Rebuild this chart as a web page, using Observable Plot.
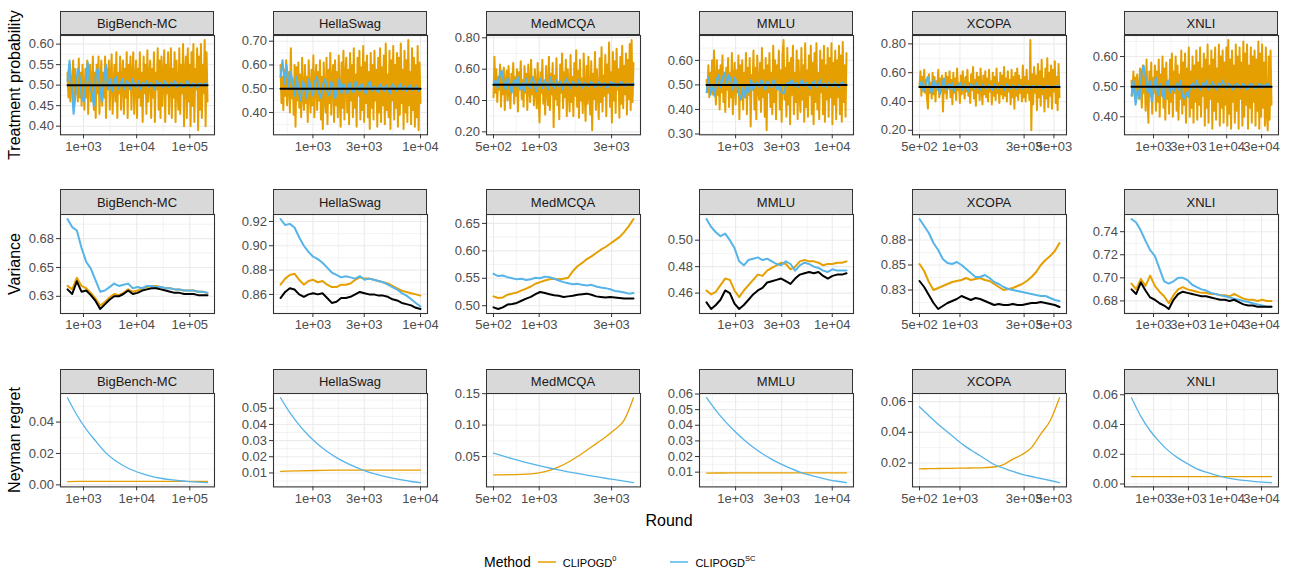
<!DOCTYPE html>
<html><head><meta charset="utf-8">
<script src="https://cdn.jsdelivr.net/npm/d3@7"></script>
<script src="https://cdn.jsdelivr.net/npm/@observablehq/plot@0.6"></script>
<style>
body{margin:0;background:#fff;}
#root{position:relative;width:1291px;height:575px;font-family:"Liberation Sans",Arial,sans-serif;overflow:hidden;background:#fff;}
.strip{position:absolute;background:#D9D9D9;border:1px solid #333;box-sizing:border-box;color:#1A1A1A;font-size:13px;text-align:center;display:flex;align-items:center;justify-content:center;}
.pl{position:absolute;}
.ytitle{position:absolute;font-size:16px;color:#000;white-space:nowrap;transform:translate(-50%,-50%) rotate(-90deg);}
.xtitle{position:absolute;font-size:16px;color:#000;transform:translate(-50%,-50%);}
.legend{position:absolute;display:flex;align-items:center;font-size:11px;color:#000;}
.legend sup{font-size:7.5px;position:relative;top:-1px;}
</style></head><body><div id="root"></div>
<script>
// ---------- data ----------
const datasets = ["BigBench-MC","HellaSwag","MedMCQA","MMLU","XCOPA","XNLI"];
const firstRound = [500,500,500,500,500,500];
const lastRound = [215000,10000,4183,14042,5500,41000];
const xTicks = [[1e3,1e4,1e5],[1e3,3e3,1e4],[5e2,1e3,3e3],[1e3,3e3,1e4],[5e2,1e3,3e3,5e3],[1e3,3e3,1e4,3e4]];
const xTickLabels = [["1e+03","1e+04","1e+05"],["1e+03","3e+03","1e+04"],["5e+02","1e+03","3e+03"],["1e+03","3e+03","1e+04"],["5e+02","1e+03","3e+03","5e+03"],["1e+03","3e+03","1e+04","3e+04"]];
const yTicksProb = [[.40,.45,.50,.55,.60],[.30,.40,.50,.60,.70],[.20,.40,.60,.80],[.30,.40,.50,.60],[.20,.40,.60,.80],[.40,.50,.60]];
const yTicksVar = [[.625,.65,.675],[.86,.88,.90,.92],[.50,.55,.60,.65],[.46,.48,.50],[.825,.85,.875],[.68,.70,.72,.74]];
const yTicksRegret = [[0,.02,.04],[.01,.02,.03,.04,.05],[.05,.10,.15],[.01,.02,.03,.04,.05,.06],[.02,.04,.06],[0,.02,.04,.06]];

// Treatment probability (values at evenly log-spaced rounds from first to last round)
const neymanProb = [.5,.5];
const p0_BB = [.53,.47,.55,.46,.52,.49,.56,.45,.54,.48,.51,.46,.565,.47,.53,.45,.55,.49,.44,.54,.47,.56,.43,.52,.55,.46,.50,.57,.44,.53,.42,.55,.48,.57,.43,.51,.56,.45,.53,.47,.57,.42,.54,.49,.56,.44,.52,.575,.43,.50,.55,.46,.58,.42,.53,.48,.57,.44,.51,.56,.43,.54,.47,.58,.42,.55,.49,.57,.44,.52,.58,.43,.51,.56,.42,.54,.47,.58,.45,.53,.41,.57,.48,.55,.43,.585,.46,.52,.56,.42,.54,.47,.58,.41,.53,.49,.59,.44,.56,.42,.57,.45,.52,.585,.41,.55,.48,.58,.43,.51,.59,.42,.54,.47,.58,.41,.56,.49,.44,.59,.43,.55,.48,.60,.40,.53,.57,.42,.59,.46,.55,.40,.58,.45,.60,.41,.54,.49,.59,.39,.57,.44,.60,.42,.55,.48,.61,.40,.58,.46];
const pSC_BB = [.51,.56,.50,.43,.48,.54,.52,.47,.46,.51,.555,.50,.48,.45,.53,.54,.49,.46,.52,.55,.49,.515,.485,.51,.52,.49,.50,.515,.49,.51,.505,.49,.515,.50,.495,.51,.49,.505,.50,.51,.495,.505,.50,.49,.51,.50,.505,.495,.51,.50,.495,.505,.50,.51,.495,.50,.505,.495,.50,.51,.50,.495,.505,.50,.495,.505,.50,.50,.505,.50];
const p0_HS = [.60,.44,.55,.41,.58,.47,.62,.43,.52,.57,.40,.67,.46,.54,.39,.60,.34,.59,.45,.61,.42,.56,.38,.63,.47,.41,.60,.44,.55,.36,.62,.49,.40,.58,.43,.64,.38,.53,.60,.41,.57,.45,.62,.37,.55,.33,.61,.47,.40,.63,.35,.58,.44,.65,.39,.54,.60,.36,.62,.43,.57,.38,.64,.46,.34,.61,.42,.66,.37,.55,.63,.40,.58,.35,.65,.45,.60,.38,.67,.42,.56,.34,.63,.47,.66,.37,.59,.41,.68,.36,.61,.44,.64,.38,.57,.33,.65,.42,.60,.37,.66,.45,.58,.34,.63,.40,.67,.36,.59,.43,.64,.35,.69,.41,.56,.38,.66,.33,.62,.45,.68,.37,.60,.42,.65,.34,.63,.39,.69,.44,.58,.33,.66,.40,.62,.36,.705,.43,.57,.35,.67,.41,.63,.34,.60,.38,.68,.325,.61,.44];
const pSC_HS = [.55,.62,.52,.60,.50,.57,.53,.47,.55,.49,.45,.53,.51,.46,.54,.50,.47,.53,.55,.48,.46,.52,.54,.49,.47,.53,.51,.46,.50,.54,.48,.52,.50,.48,.525,.50,.485,.53,.51,.49,.52,.50,.48,.515,.53,.49,.51,.50,.485,.52,.505,.49,.515,.50,.48,.52,.51,.49,.50,.52,.495,.51,.49,.505,.515,.495,.50,.51,.49,.50];
const p0_MED = [.42,.68,.45,.60,.39,.55,.47,.63,.36,.58,.44,.61,.34,.52,.59,.40,.62,.46,.35,.57,.48,.64,.38,.55,.43,.60,.33,.58,.47,.65,.41,.53,.36,.62,.45,.57,.34,.63,.49,.39,.66,.44,.55,.37,.60,.47,.35,.64,.42,.26,.58,.45,.66,.38,.52,.31,.62,.48,.37,.68,.34,.57,.44,.64,.23,.56,.41,.67,.37,.52,.28,.63,.45,.70,.35,.58,.42,.66,.30,.60,.47,.33,.69,.39,.55,.30,.64,.43,.72,.36,.59,.29,.66,.40,.54,.32,.70,.45,.27,.62,.38,.68,.44,.31,.65,.21,.57,.41,.71,.34,.60,.46,.28,.67,.39,.74,.33,.56,.43,.69,.30,.63,.45,.77,.36,.58,.26,.71,.40,.65,.32,.73,.47,.60,.29,.68,.38,.75,.35,.62,.44,.70,.31,.66,.41,.76,.34,.786,.39,.64];
const pSC_MED = [.50,.53,.48,.56,.59,.52,.47,.54,.50,.45,.53,.49,.55,.47,.51,.46,.54,.50,.48,.55,.52,.46,.50,.54,.48,.53,.51,.47,.55,.50,.48,.53,.49,.52,.47,.51,.54,.50,.48,.52,.505,.49,.53,.50,.48,.515,.50,.49,.52,.51,.485,.50,.52,.49,.505,.51,.48,.50,.52,.495,.51,.49,.505,.52,.50,.49,.51,.50,.495,.51];
const p0_MMLU = [.52,.47,.58,.45,.55,.49,.60,.46,.64,.50,.42,.60,.46,.56,.40,.58,.47,.62,.43,.53,.39,.57,.48,.61,.41,.55,.45,.63,.38,.52,.59,.42,.56,.47,.62,.36,.58,.44,.60,.40,.55,.45,.63,.38,.57,.46,.61,.33,.54,.48,.64,.40,.57,.36,.62,.48,.44,.59,.39,.65,.45,.56,.37,.61,.315,.58,.47,.63,.41,.55,.38,.66,.43,.60,.36,.58,.49,.64,.40,.56,.35,.62,.683,.44,.57,.37,.65,.42,.59,.34,.61,.46,.66,.38,.55,.43,.64,.36,.60,.47,.39,.65,.44,.58,.35,.67,.41,.56,.37,.62,.46,.66,.38,.59,.34,.63,.43,.67,.40,.55,.36,.64,.47,.60,.38,.66,.35,.58,.44,.65,.37,.61,.45,.67,.34,.59,.42,.64,.36,.60,.45,.66,.38,.62,.35,.675,.43,.58,.37,.63];
const pSC_MMLU = [.47,.53,.46,.50,.455,.52,.54,.49,.53,.55,.50,.54,.52,.48,.53,.50,.46,.44,.49,.45,.50,.47,.52,.48,.505,.51,.49,.52,.50,.48,.515,.50,.49,.52,.505,.48,.50,.47,.465,.49,.51,.50,.52,.495,.51,.49,.50,.52,.495,.51,.50,.485,.505,.515,.49,.50,.52,.495,.505,.49,.51,.50,.495,.51,.50,.49,.505,.51,.50,.50];
const p0_XC = [.50,.61,.44,.57,.48,.62,.46,.55,.42,.35,.59,.46,.53,.42,.60,.45,.57,.40,.54,.48,.62,.43,.56,.47,.58,.33,.55,.46,.60,.42,.57,.49,.61,.43,.55,.38,.60,.46,.56,.41,.63,.48,.52,.39,.58,.45,.61,.50,.42,.57,.47,.62,.44,.53,.39,.59,.48,.64,.42,.55,.37,.60,.46,.57,.41,.63,.49,.38,.58,.45,.61,.43,.56,.40,.62,.47,.54,.38,.60,.44,.57,.41,.63,.46,.53,.39,.60,.45,.58,.42,.64,.44,.56,.40,.61,.47,.55,.38,.62,.43,.57,.35,.60,.44,.63,.41,.58,.46,.55,.40,.65,.43,.57,.40,.62,.46,.54,.41,.827,.20,.59,.38,.64,.46,.58,.34,.66,.43,.61,.37,.69,.45,.56,.33,.63,.42,.70,.36,.60,.44,.65,.35,.62,.47,.68,.39,.57,.34,.66,.43];
const pSC_XC = [.50,.54,.47,.52,.57,.50,.46,.55,.49,.53,.45,.51,.56,.48,.52,.49,.53,.47,.51,.50,.53,.48,.52,.50,.47,.52,.51,.49,.53,.50,.48,.52,.50,.49,.515,.50,.48,.52,.50,.49,.51,.505,.48,.52,.50,.49,.51,.50,.485,.515,.50,.49,.51,.50,.505,.49,.51,.50,.495,.51,.50,.49,.505,.51,.50,.495,.505,.50,.51,.50];
const p0_XN = [.52,.47,.55,.48,.53,.45,.54,.49,.46,.56,.50,.43,.57,.48,.54,.42,.59,.46,.38,.55,.47,.58,.41,.53,.48,.57,.42,.55,.45,.59,.40,.54,.47,.60,.43,.56,.39,.58,.46,.52,.41,.59,.45,.61,.40,.55,.48,.60,.42,.57,.39,.54,.46,.62,.41,.58,.44,.61,.38,.56,.47,.63,.40,.55,.43,.60,.38,.57,.45,.62,.39,.58,.44,.63,.40,.56,.47,.61,.37,.59,.43,.64,.38,.57,.46,.62,.36,.59,.42,.63,.39,.56,.45,.64,.37,.60,.43,.62,.38,.58,.44,.63,.37,.655,.41,.59,.36,.62,.45,.57,.38,.64,.42,.60,.36,.63,.46,.58,.37,.65,.40,.61,.44,.64,.36,.57,.43,.63,.38,.60,.45,.62,.37,.59,.42,.65,.36,.61,.40,.64,.43,.58,.37,.63,.41,.355,.60,.39,.62,.44];
const pSC_XN = [.47,.52,.44,.49,.46,.55,.57,.53,.48,.52,.45,.50,.53,.47,.51,.49,.46,.51,.52,.48,.50,.485,.51,.49,.52,.47,.46,.48,.465,.50,.51,.495,.52,.50,.49,.51,.505,.52,.49,.50,.515,.50,.49,.51,.505,.52,.50,.495,.51,.50,.49,.505,.51,.50,.495,.51,.50,.49,.505,.51,.50,.495,.50,.51,.495,.505,.50,.51,.50,.50];

// Variance
const v0_BB = [.634,.631,.641,.634,.632,.628,.623,.617,.620,.624,.627,.626,.628,.631,.629,.630,.632,.633,.634,.634,.633,.632,.632,.631,.631,.630,.630,.630,.629,.629,.628];
const vSC_BB = [.692,.685,.682,.667,.655,.649,.639,.629,.630,.633,.636,.634,.635,.636,.632,.633,.632,.634,.634,.633,.633,.632,.632,.631,.631,.630,.630,.630,.629,.629,.628];
const vN_BB = [.631,.627,.638,.629,.630,.626,.621,.614,.618,.622,.625,.625,.627,.630,.627,.628,.630,.631,.632,.632,.631,.630,.629,.628,.628,.627,.627,.627,.626,.626,.626];
const v0_HS = [.868,.873,.876,.877,.872,.868,.871,.872,.870,.871,.868,.866,.866,.868,.868,.869,.872,.874,.873,.873,.872,.871,.870,.869,.867,.865,.863,.862,.861,.860,.859];
const vSC_HS = [.922,.917,.918,.915,.907,.900,.895,.891,.889,.886,.882,.878,.876,.874,.875,.874,.873,.875,.872,.873,.872,.871,.870,.868,.866,.864,.861,.859,.856,.853,.850];
const vN_HS = [.857,.862,.865,.864,.860,.858,.860,.861,.860,.861,.857,.853,.854,.857,.857,.858,.860,.862,.861,.860,.860,.859,.859,.858,.856,.855,.853,.852,.851,.849,.848];
const v0_MED = [.517,.514,.515,.520,.522,.524,.528,.531,.535,.540,.543,.546,.548,.549,.548,.549,.551,.563,.572,.578,.585,.590,.596,.602,.607,.613,.619,.625,.634,.645,.658];
const vSC_MED = [.558,.554,.555,.552,.550,.548,.549,.547,.548,.551,.550,.553,.552,.549,.546,.543,.541,.539,.540,.538,.537,.538,.535,.533,.532,.530,.527,.526,.524,.522,.523];
const vN_MED = [.497,.494,.497,.502,.503,.505,.509,.513,.516,.521,.525,.523,.521,.519,.518,.516,.517,.518,.520,.521,.522,.520,.517,.516,.515,.516,.515,.514,.513,.513,.513];
const v0_MMLU = [.462,.459,.461,.466,.471,.470,.462,.457,.462,.466,.470,.474,.473,.477,.479,.481,.483,.482,.478,.480,.484,.485,.484,.484,.483,.481,.482,.482,.483,.483,.484];
const vSC_MMLU = [.516,.510,.506,.503,.505,.500,.494,.484,.481,.485,.486,.487,.485,.486,.484,.482,.481,.484,.482,.477,.481,.483,.482,.480,.479,.477,.476,.478,.477,.477,.477];
const vN_MMLU = [.453,.448,.451,.455,.462,.460,.452,.448,.451,.455,.459,.462,.464,.468,.469,.470,.471,.469,.467,.471,.474,.475,.476,.475,.476,.473,.471,.473,.474,.474,.475];
const v0_XC = [.851,.844,.833,.825,.827,.829,.831,.833,.834,.835,.837,.835,.836,.837,.835,.834,.831,.828,.825,.826,.827,.829,.831,.834,.838,.843,.850,.855,.859,.864,.872];
const vSC_XC = [.896,.889,.882,.872,.865,.856,.852,.851,.853,.850,.846,.842,.838,.838,.840,.837,.833,.831,.828,.826,.825,.824,.823,.822,.821,.820,.819,.819,.817,.815,.814];
const vN_XC = [.834,.828,.820,.812,.806,.809,.812,.814,.816,.819,.817,.815,.817,.816,.814,.812,.810,.811,.810,.810,.811,.810,.810,.811,.812,.812,.813,.812,.811,.810,.808];
const v0_XN = [.695,.690,.699,.693,.702,.693,.688,.684,.678,.685,.690,.692,.690,.689,.688,.687,.687,.686,.686,.685,.685,.684,.686,.684,.682,.681,.681,.680,.681,.680,.680];
const vSC_XN = [.751,.748,.741,.732,.724,.719,.708,.697,.695,.697,.700,.700,.698,.694,.692,.690,.689,.687,.686,.685,.684,.683,.682,.681,.680,.679,.678,.677,.676,.675,.675];
const vN_XN = [.690,.686,.696,.689,.683,.681,.678,.676,.673,.681,.686,.688,.687,.686,.685,.684,.684,.683,.682,.681,.681,.680,.681,.679,.677,.676,.676,.675,.675,.675,.675];

// Neyman regret
const r0_BB = [.0021,.0022,.0022,.0022,.0022,.0022];
const rSC_BB = [.0555,.0445,.0355,.0280,.0210,.0160,.0122,.0093,.0071,.0054,.0042,.0033,.0026,.0021,.0017,.0014];
const r0_HS = [.0110,.0113,.0115,.0117,.0118,.0118,.0118,.0117,.0117];
const rSC_HS = [.0565,.0473,.0396,.0332,.0278,.0233,.0195,.0164,.0137,.0115,.0096,.0081,.0068,.0057,.0047,.0040];
const r0_MED = [.0210,.0210,.0212,.0215,.0225,.0245,.0280,.0335,.0410,.0500,.0600,.0705,.0810,.0930,.1080,.1435];
const rSC_MED = [.0555,.0510,.0465,.0425,.0387,.0351,.0318,.0287,.0258,.0231,.0205,.0180,.0155,.0132,.0108,.0085];
const r0_MMLU = [.0094,.0095,.0095,.0095,.0095,.0095];
const rSC_MMLU = [.0576,.0495,.0425,.0363,.0308,.0260,.0218,.0182,.0151,.0124,.0101,.0082,.0066,.0053,.0042,.0033];
const r0_XC = [.0162,.0163,.0164,.0165,.0166,.0167,.0168,.0170,.0174,.0190,.0225,.0255,.0300,.0390,.0475,.0625];
const rSC_XC = [.0566,.0508,.0453,.0402,.0352,.0305,.0266,.0228,.0190,.0167,.0145,.0126,.0112,.0099,.0086,.0072];
const r0_XN = [.0049,.0050,.0050,.0050,.0050,.0050];
const rSC_XN = [.0580,.0455,.0358,.0283,.0221,.0174,.0136,.0102,.0080,.0060,.0045,.0033,.0024,.0018,.0013,.0009];

// ---------- assembly ----------
const ORANGE = "#E69F00", BLUE = "#56B4E9", BLACK = "#000000";
const rowsData = [
  {title:"Treatment probability", ticks:yTicksProb, width:2, curve:"linear",
   series:[[p0_BB,pSC_BB,neymanProb],[p0_HS,pSC_HS,neymanProb],[p0_MED,pSC_MED,neymanProb],[p0_MMLU,pSC_MMLU,neymanProb],[p0_XC,pSC_XC,neymanProb],[p0_XN,pSC_XN,neymanProb]]},
  {title:"Variance", ticks:yTicksVar, width:2, curve:"linear",
   series:[[v0_BB,vSC_BB,vN_BB],[v0_HS,vSC_HS,vN_HS],[v0_MED,vSC_MED,vN_MED],[v0_MMLU,vSC_MMLU,vN_MMLU],[v0_XC,vSC_XC,vN_XC],[v0_XN,vSC_XN,vN_XN]]},
  {title:"Neyman regret", ticks:yTicksRegret, width:1.3, curve:"monotone-x",
   series:[[r0_BB,rSC_BB],[r0_HS,rSC_HS],[r0_MED,rSC_MED],[r0_MMLU,rSC_MMLU],[r0_XC,rSC_XC],[r0_XN,rSC_XN]]}
];
const seriesColors = [ORANGE, BLUE, BLACK];

// layout
const PW = 154;
const colLeft = [60, 273, 486, 699, 912, 1124];
const rowStrip = [10.7, 189.3, 369];
const rowTop = [35, 214.3, 393.3];
const rowBottom = [134.3, 313.3, 486.7];
const mL = 50, mR = 12, mT = 3, mB = 26;

const root = document.getElementById("root");

function toPoints(vals, s, e) {
  const n = vals.length;
  return vals.map((v, i) => ({r: s * Math.pow(e / s, n === 1 ? 0 : i / (n - 1)), v}));
}
function minors(majors, f, inv, lo, hi) {
  const t = majors.map(f);
  const out = [];
  if (t.length > 1) {
    out.push(t[0] - (t[1] - t[0]) / 2);
    for (let i = 0; i < t.length - 1; i++) out.push((t[i] + t[i + 1]) / 2);
    out.push(t[t.length - 1] + (t[t.length - 1] - t[t.length - 2]) / 2);
  }
  return out.filter(d => d >= f(lo) && d <= f(hi)).map(inv);
}
const fmt2 = d => (Math.round(d * 100 + 1e-6) / 100).toFixed(2);

rowsData.forEach((row, ri) => {
  const H = rowBottom[ri] - rowTop[ri];
  datasets.forEach((name, ci) => {
    const s = firstRound[ci], e = lastRound[ci];
    const ls = Math.log10(s), le = Math.log10(e), dl = (le - ls) * 0.05;
    const xd = [Math.pow(10, ls - dl), Math.pow(10, le + dl)];
    const all = row.series[ci].flat();
    const ymin = d3.min(all), ymax = d3.max(all), dy = (ymax - ymin) * 0.05;
    const yd = [ymin - dy, ymax + dy];
    const xt = xTicks[ci], xl = xTickLabels[ci];
    const yt = row.ticks[ci].filter(d => d >= yd[0] && d <= yd[1]);
    const xMinor = minors(xt, Math.log10, d => Math.pow(10, d), xd[0], xd[1]);
    const yMinor = minors(row.ticks[ci], d => d, d => d, yd[0], yd[1]);
    const xIdx = xt.map((d, i) => i).filter(i => xt[i] >= xd[0] && xt[i] <= xd[1]);
    const xMaj = xIdx.map(i => xt[i]);
    const lines = row.series[ci].map((vals, k) => Plot.line(toPoints(vals, s, e), {
      x: "r", y: "v", stroke: seriesColors[k], strokeWidth: row.width, curve: row.curve, clip: true
    }));
    const svg = Plot.plot({
      width: mL + PW + mR, height: mT + H + mB,
      marginLeft: mL, marginRight: mR, marginTop: mT, marginBottom: mB,
      style: {background: "transparent", overflow: "visible", fontFamily: "'Liberation Sans', Arial, sans-serif"},
      x: {type: "log", domain: xd, axis: null},
      y: {domain: yd, axis: null},
      marks: [
        Plot.ruleX(xMinor, {stroke: "#EBEBEB", strokeWidth: 0.6}),
        Plot.ruleY(yMinor, {stroke: "#EBEBEB", strokeWidth: 0.6}),
        Plot.ruleX(xMaj, {stroke: "#EBEBEB", strokeWidth: 1.1}),
        Plot.ruleY(yt, {stroke: "#EBEBEB", strokeWidth: 1.1}),
        ...lines,
        Plot.frame({stroke: "#333333", strokeWidth: 1.1}),
        Plot.axisX(xMaj, {tickSize: 4, stroke: "#333333", tickFormat: () => "", label: null}),
        Plot.text(xIdx, {x: i => xt[i], text: i => xl[i], frameAnchor: "bottom", lineAnchor: "top",
          dy: 6.5, fill: "#4D4D4D", fontSize: 13}),
        Plot.axisY(yt, {tickSize: 4, tickPadding: 2.5, stroke: "#333333", fill: "#4D4D4D", fontSize: 13,
          tickFormat: fmt2, label: null})
      ]
    });
    const wrap = document.createElement("div");
    wrap.className = "pl";
    wrap.style.left = (colLeft[ci] - mL) + "px";
    wrap.style.top = (rowTop[ri] - mT) + "px";
    wrap.appendChild(svg);
    root.appendChild(wrap);
    const st = document.createElement("div");
    st.className = "strip";
    st.style.left = colLeft[ci] + "px";
    st.style.top = rowStrip[ri] + "px";
    st.style.width = PW + "px";
    st.style.height = (rowTop[ri] - rowStrip[ri] + 0.5) + "px";
    st.textContent = name;
    root.appendChild(st);
  });
  const yt = document.createElement("div");
  yt.className = "ytitle";
  yt.style.left = "15px";
  yt.style.top = ((rowTop[ri] + rowBottom[ri]) / 2) + "px";
  yt.textContent = row.title;
  root.appendChild(yt);
});

const xtl = document.createElement("div");
xtl.className = "xtitle";
xtl.style.left = "669px";
xtl.style.top = "521px";
xtl.textContent = "Round";
root.appendChild(xtl);

const lg = document.createElement("div");
lg.className = "legend";
lg.style.left = "484px";
lg.style.top = "554px";
lg.innerHTML =
  '<span style="font-size:14px;margin-right:5px">Method</span>' +
  '<svg width="22" height="10"><line x1="2" x2="20" y1="5" y2="5" stroke="' + ORANGE + '" stroke-width="1.5"/></svg>' +
  '<span style="margin-left:5px;margin-right:52px">CLIPOGD<sup>0</sup></span>' +
  '<svg width="22" height="10"><line x1="2" x2="20" y1="5" y2="5" stroke="' + BLUE + '" stroke-width="1.5"/></svg>' +
  '<span style="margin-left:5px">CLIPOGD<sup>SC</sup></span>';
root.appendChild(lg);
</script></body></html>
